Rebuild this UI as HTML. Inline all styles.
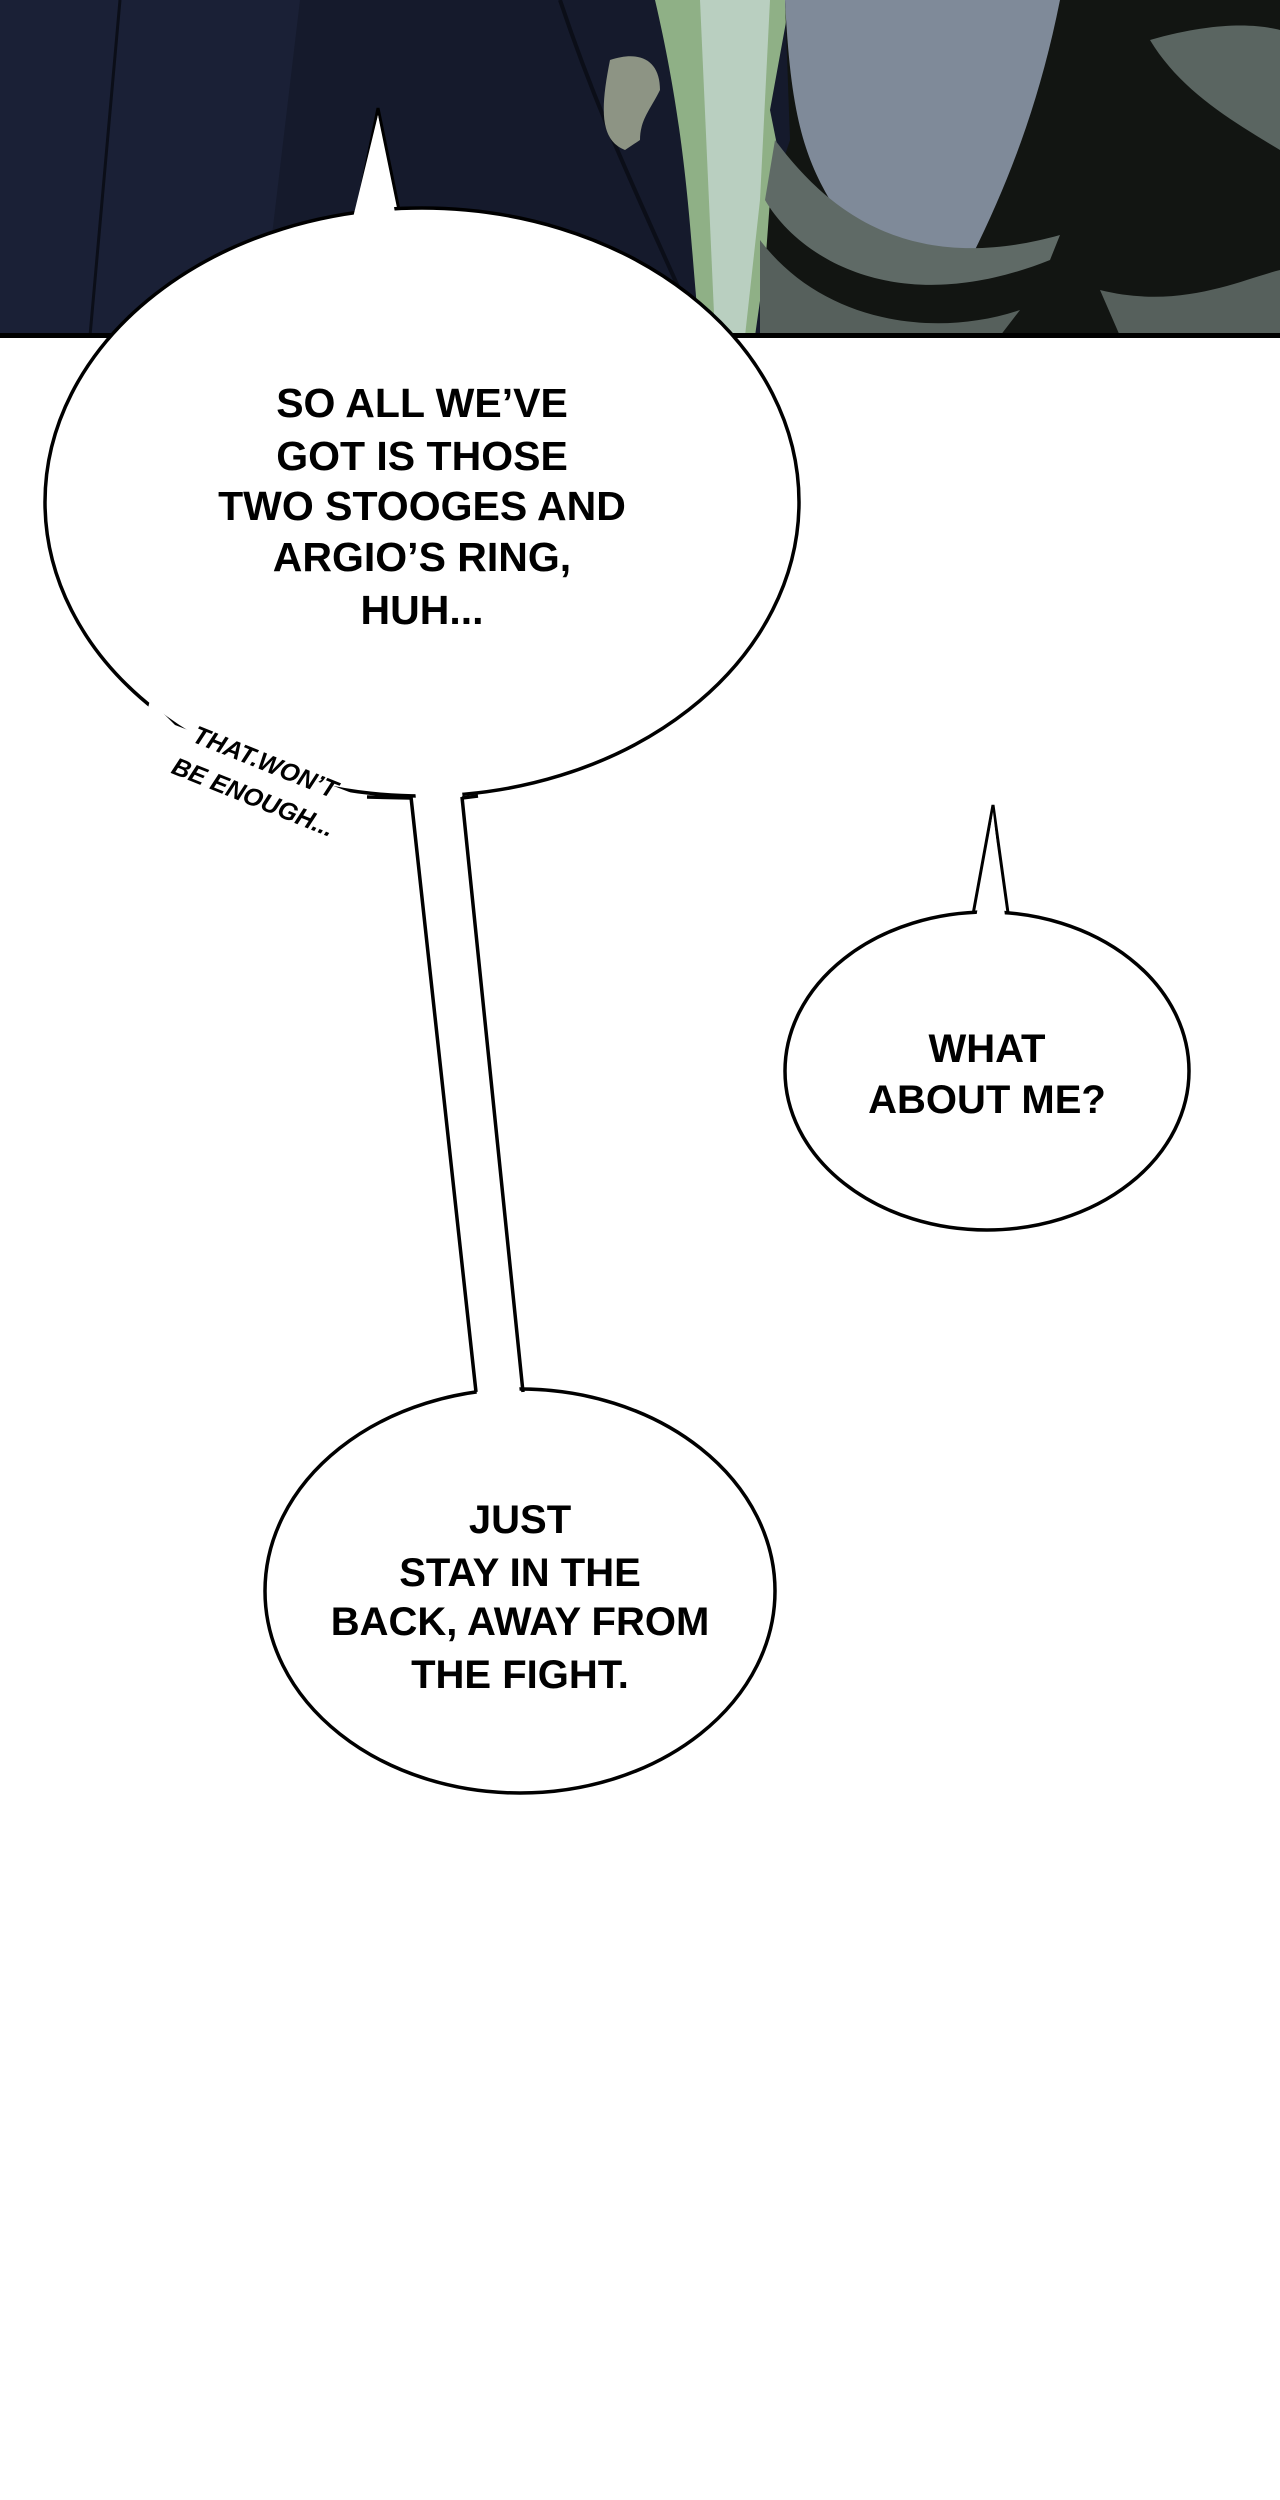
<!DOCTYPE html>
<html><head><meta charset="utf-8"><style>
html,body{margin:0;padding:0;background:#fff;}
svg{display:block;}
text{font-family:"Liberation Sans Narrow","Liberation Sans",sans-serif;font-weight:bold;fill:#000;}
</style></head><body>
<svg width="1280" height="2500" viewBox="0 0 1280 2500" xmlns="http://www.w3.org/2000/svg">
<rect width="1280" height="2500" fill="#fff"/>
<!-- top panel -->
<rect x="0" y="0" width="1280" height="336" fill="#151a2c"/>
<path d="M0 0 H300 L260 336 H0 Z" fill="#1a2036"/>
<path d="M120 0 L90 336" stroke="#0b0e18" stroke-width="3"/>
<path d="M560 0 C600 120 640 200 700 336" stroke="#0b0e18" stroke-width="4" fill="none"/>
<path d="M655 0 H790 L770 110 L780 160 L755 336 H700 C690 250 690 150 655 0 Z" fill="#8fb086"/>
<path d="M700 0 H770 L760 200 L745 336 H715 Z" fill="#b9cfc0"/>
<path d="M785 0 H1280 V336 H760 L770 200 L790 140 Z" fill="#121512"/>
<path d="M785 0 H1060 C1040 100 1010 180 970 260 C920 270 860 250 830 200 C800 150 790 100 785 0 Z" fill="#7f8a99"/>
<path d="M775 140 C820 200 900 280 1060 235 L1050 260 C900 320 800 260 765 200 Z" fill="#5f6a66"/>
<path d="M760 240 C820 320 930 340 1020 310 L1000 336 H760 Z" fill="#56605c"/>
<path d="M1150 40 C1220 20 1260 25 1280 30 V150 C1230 120 1180 90 1150 40 Z" fill="#5a6561"/>
<path d="M1100 290 C1180 310 1240 280 1280 270 V336 H1120 Z" fill="#56605c"/>
<path d="M610 60 C640 50 660 60 660 90 C650 110 640 120 640 140 L625 150 C600 140 600 110 610 60 Z" fill="#8d9484"/>
<rect x="0" y="333" width="1280" height="5" fill="#000"/>
<!-- big bubble tail -->
<path d="M355 220 L378 108 L400 215" fill="#fff" stroke="#000" stroke-width="3"/>
<ellipse cx="422" cy="502" rx="377" ry="294" fill="#fff" stroke="#000" stroke-width="3.5"/>
<path d="M350 230 L378 115 L398 230 Z" fill="#fff"/>
<!-- bottom bubble -->
<ellipse cx="520" cy="1591" rx="255" ry="202" fill="#fff" stroke="#000" stroke-width="3.5"/>
<!-- connector -->
<path d="M413 770 L478 1405 L521 1405 L460 770 Z" fill="#fff"/>
<path d="M411 797 L476 1392 M462 797 L523 1392" stroke="#000" stroke-width="3.5"/>
<path d="M367 797 L411 798 M462 798 L478 796" stroke="#000" stroke-width="3.5"/>
<!-- gap in outline for side text -->
<path d="M150 700 L175 725 L370 800 L365 830 L140 740 Z" fill="#fff"/>
<g font-size="41" text-anchor="middle">
<text x="422" y="417">SO ALL WE’VE</text>
<text x="422" y="470">GOT IS THOSE</text>
<text x="422" y="520">TWO STOOGES AND</text>
<text x="422" y="571">ARGIO’S RING,</text>
<text x="422" y="624">HUH...</text>
</g>
<g font-size="25" font-style="italic" text-anchor="middle">
<text transform="translate(262,770) rotate(22)">THAT.WON’T</text>
<text transform="translate(250,805) rotate(22)">BE ENOUGH...</text>
</g>
<!-- right bubble -->
<path d="M972 920 L993 805 L1009 920" fill="#fff" stroke="#000" stroke-width="3"/>
<ellipse cx="987" cy="1071" rx="202" ry="159" fill="#fff" stroke="#000" stroke-width="3.5"/>
<path d="M975 925 L993 812 L1006 925 Z" fill="#fff"/>
<g font-size="40" text-anchor="middle">
<text x="987" y="1062">WHAT</text>
<text x="987" y="1113">ABOUT ME?</text>
</g>
<g font-size="40" text-anchor="middle">
<text x="520" y="1533">JUST</text>
<text x="520" y="1586">STAY IN THE</text>
<text x="520" y="1635">BACK, AWAY FROM</text>
<text x="520" y="1688">THE FIGHT.</text>
</g>
</svg>
</body></html>
